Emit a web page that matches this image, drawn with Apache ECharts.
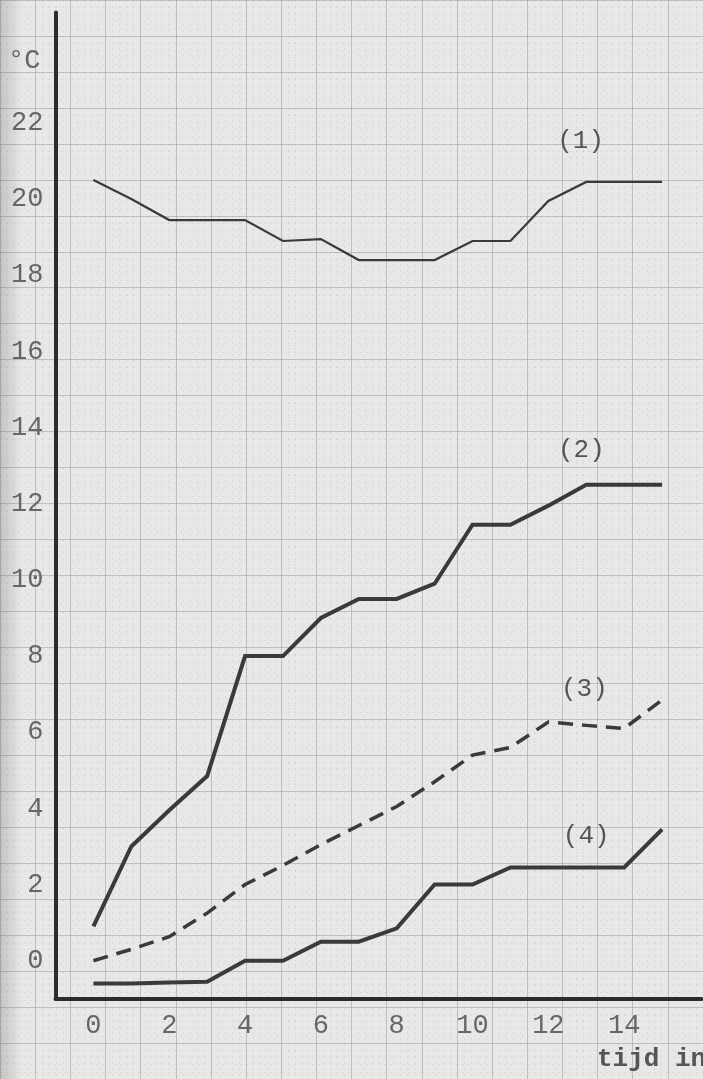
<!DOCTYPE html>
<html>
<head>
<meta charset="utf-8">
<script src="https://cdn.jsdelivr.net/npm/echarts@6/dist/echarts.min.js"></script>
<style>
  html, body { margin: 0; padding: 0; background: #e8e8e6; }
  #temp_chart { width: 703px; height: 1079px; }
</style>
</head>
<body>
<div id="temp_chart"></div>
<script>
// tijd in uren
const hours = [0, 1, 2, 3, 4, 5, 6, 7, 8, 9, 10, 11, 12, 13, 14, 15];
const curve1 = [20.5, 20.0, 19.45, 19.45, 19.45, 18.9, 18.95, 18.4, 18.4, 18.4, 18.9, 18.9, 19.95, 20.45, 20.45, 20.45];
const curve2 = [0.9, 3.0, 3.95, 4.85, 8.0, 8.0, 9.0, 9.5, 9.5, 9.9, 11.45, 11.45, 11.95, 12.5, 12.5, 12.5];
const curve3 = [0, 0.3, 0.63, 1.25, 2.0, 2.5, 3.05, 3.55, 4.05, 4.7, 5.4, 5.6, 6.27, 6.18, 6.1, 6.85];
const curve4 = [-0.6, -0.6, -0.57, -0.55, 0, 0, 0.5, 0.5, 0.85, 2.0, 2.0, 2.45, 2.45, 2.45, 2.45, 3.45];

const curveNames = ["(1)", "(2)", "(3)", "(4)"];
const nameX = [12.85, 12.87, 12.95, 13.0];
const nameY = [21.53, 13.41, 7.13, 3.26];

const xTickLabels = [0, 2, 4, 6, 8, 10, 12, 14];
const yTickLabels = [0, 2, 4, 6, 8, 10, 12, 14, 16, 18, 20, 22];

const ink = "#3a3a3a";
const typeFont = "Liberation Mono";

const chart = echarts.init(document.getElementById("temp_chart"), null, { renderer: "canvas" });

function makeCurve(idx, values, width, dashed) {
  return {
    name: curveNames[idx],
    type: "line",
    xAxisIndex: 1,
    yAxisIndex: 1,
    showSymbol: false,
    silent: true,
    lineStyle: {
      color: ink,
      width: width,
      type: dashed ? [15, 9] : "solid",
      join: "miter",
    },
    markPoint: {
      symbolSize: 0,
      label: {
        show: true,
        formatter: curveNames[idx],
        color: "#555555",
        fontFamily: typeFont,
        fontSize: 26,
      },
      data: [{ coord: [nameX[idx], nameY[idx]] }],
    },
    data: hours.map((h, i) => [h, values[i]]),
  };
}

const option = {
  animation: false,
  backgroundColor: "#e8e8e6",
  // grid 0 = the graph paper, grid 1 = the plot itself
  grid: [
    { left: -20.5, right: -36.5, top: -29.4, bottom: -34 },
    { left: 55.5, right: 0, top: 12.5, bottom: 80.2 },
  ],
  xAxis: [
    {
      gridIndex: 0,
      type: "value",
      min: -3,
      max: 17,
      interval: 1,
      axisLine: { show: false },
      axisTick: { show: false },
      axisLabel: { show: false },
      splitLine: { show: true, lineStyle: { color: "rgba(110,110,110,0.34)", width: 1 } },
      minorTick: { show: false, splitNumber: 5 },
      minorSplitLine: { show: true, lineStyle: { color: "rgba(120,120,120,0.13)", width: 1, type: [2, 4] } },
    },
    {
      gridIndex: 1,
      type: "value",
      min: -1,
      max: 16.04,
      interval: 1,
      axisLine: { show: true, onZero: false, lineStyle: { color: "#2c2c2c", width: 4 } },
      axisTick: { show: false },
      splitLine: { show: false },
      axisLabel: {
        margin: 14,
        color: "#666666",
        fontFamily: typeFont,
        fontSize: 27,
        showMaxLabel: false,
        formatter: (v) => (xTickLabels.includes(v) ? String(v) : ""),
      },
    },
  ],
  yAxis: [
    {
      gridIndex: 0,
      type: "value",
      min: -4,
      max: 26,
      interval: 1,
      axisLine: { show: false },
      axisTick: { show: false },
      axisLabel: { show: false },
      splitLine: { show: true, lineStyle: { color: "rgba(110,110,110,0.34)", width: 1 } },
      minorTick: { show: false, splitNumber: 5 },
      minorSplitLine: { show: true, lineStyle: { color: "rgba(120,120,120,0.13)", width: 1, type: [2, 4] } },
    },
    {
      gridIndex: 1,
      type: "value",
      min: -1,
      max: 24.9,
      interval: 1,
      axisLine: { show: true, onZero: false, lineStyle: { color: "#2c2c2c", width: 4 } },
      axisTick: { show: false },
      splitLine: { show: false },
      axisLabel: {
        margin: 12,
        color: "#666666",
        fontFamily: typeFont,
        fontSize: 27,
        showMaxLabel: false,
        formatter: (v) => (yTickLabels.includes(v) ? String(v) : ""),
      },
    },
  ],
  graphic: [
    {
      type: "rect",
      silent: true,
      z: -1,
      shape: { x: 0, y: 0, width: 22, height: 1079 },
      style: {
        fill: new echarts.graphic.LinearGradient(0, 0, 1, 0, [
          { offset: 0, color: "rgba(150,150,148,0.45)" },
          { offset: 1, color: "rgba(150,150,148,0)" },
        ]),
      },
    },
    {
      type: "text",
      left: 8,
      top: 47,
      style: { text: "°C", fill: "#666666", font: "27px " + typeFont },
    },
    {
      type: "text",
      left: 597,
      top: 1046,
      style: { text: "tijd in uren", fill: "#555555", font: "bold 26px " + typeFont },
    },
  ],
  series: [
    makeCurve(0, curve1, 2.2, false),
    makeCurve(1, curve2, 4, false),
    makeCurve(2, curve3, 3.5, true),
    makeCurve(3, curve4, 4, false),
  ],
};

chart.setOption(option);
</script>
</body>
</html>
